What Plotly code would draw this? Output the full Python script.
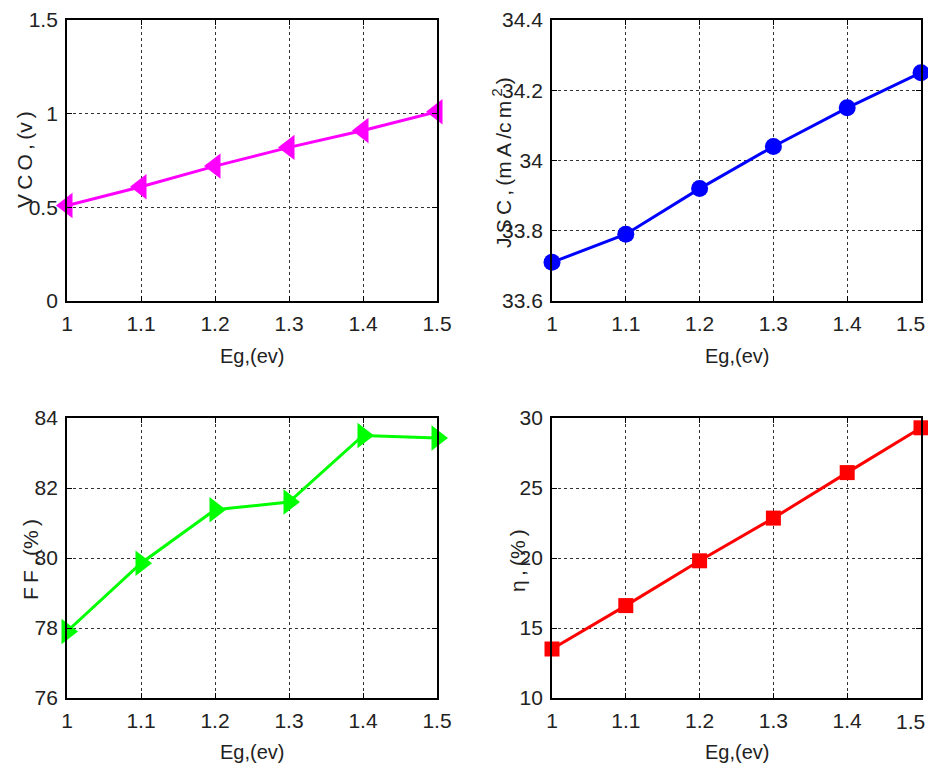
import plotly.graph_objects as go

eg = [1.0, 1.1, 1.2, 1.3, 1.4, 1.5]
vco = [0.51, 0.61, 0.72, 0.82, 0.91, 1.01]
jsc = [33.71, 33.79, 33.92, 34.04, 34.15, 34.25]
ff = [77.9, 79.85, 81.38, 81.6, 83.5, 83.43]
eta = [13.5, 16.6, 19.8, 22.85, 26.1, 29.3]

x_ticks = [1, 1.1, 1.2, 1.3, 1.4, 1.5]
x_ticktext = ["1", "1.1", "1.2", "1.3", "1.4", "1.5"]
vco_ticks = [0, 0.5, 1, 1.5]
vco_ticktext = ["0", "0.5", "1", "1.5"]
jsc_ticks = [33.6, 33.8, 34.0, 34.2, 34.4]
jsc_ticktext = ["33.6", "33.8", "34", "34.2", "34.4"]
ff_ticks = [76, 78, 80, 82, 84]
ff_ticktext = ["76", "78", "80", "82", "84"]
eta_ticks = [10, 15, 20, 25, 30]
eta_ticktext = ["10", "15", "20", "25", "30"]

# page body has an 8px margin; size the figure so the page does not overflow
OFF = 8
W, H = 936 - OFF, 772 - 2 * OFF
FONT = "Liberation Sans Narrow, Arial Narrow, Liberation Sans, Arial, sans-serif"
TXT = "#222222"

def px_x(v):
    return (v - OFF) / W

def px_y(v):
    return 1 - (v - OFF) / H

fig = go.Figure()

panels = [
    dict(y=vco, color="#ff00ff", symbol="triangle-left", size=22, xa="x", ya="y"),
    dict(y=jsc, color="#0000ff", symbol="circle", size=17, xa="x2", ya="y2"),
    dict(y=ff, color="#00ff00", symbol="triangle-right", size=22, xa="x3", ya="y3"),
    dict(y=eta, color="#ff0000", symbol="square", size=15, xa="x4", ya="y4"),
]
for p in panels:
    fig.add_trace(go.Scatter(
        x=eg, y=p["y"], mode="lines+markers",
        line=dict(color=p["color"], width=3),
        marker=dict(symbol=p["symbol"], size=p["size"], color=p["color"],
                    line=dict(width=0)),
        xaxis=p["xa"], yaxis=p["ya"], cliponaxis=False, showlegend=False,
    ))

xl, xr = (px_x(67), px_x(437)), (px_x(552), px_x(921))
yt, yb = (px_y(301), px_y(20)), (px_y(698), px_y(418))

TICKSIZE = 21
common = dict(showline=True, linecolor="black", linewidth=1.8, mirror="ticks",
              ticks="inside", ticklen=5, tickcolor="black", automargin=False,
              showgrid=True, gridcolor="#333333", griddash="dot", gridwidth=1,
              zeroline=False, tickfont=dict(family=FONT, size=TICKSIZE, color=TXT))

def xaxis(domain, anchor, right=False):
    # on the right-hand panels the last label sits at the page edge; it is
    # drawn as a right-aligned annotation below so it is not clipped
    tt = x_ticktext[:-1] + [""] if right else x_ticktext
    return dict(domain=domain, anchor=anchor, range=[1, 1.5], tickvals=x_ticks,
                ticktext=tt, ticklabelstandoff=3, **common)

def yaxis(domain, anchor, rng, tv, tt):
    return dict(domain=domain, anchor=anchor, range=rng, tickvals=tv, ticktext=tt,
                ticklabelstandoff=3, **common)

fig.update_layout(
    width=W, height=H, plot_bgcolor="white", paper_bgcolor="white",
    margin=dict(l=0, r=0, t=0, b=0),
    xaxis=xaxis(xl, "y"), yaxis=yaxis(yt, "x", [0, 1.5], vco_ticks, vco_ticktext),
    xaxis2=xaxis(xr, "y2", True), yaxis2=yaxis(yt, "x2", [33.6, 34.4], jsc_ticks, jsc_ticktext),
    xaxis3=xaxis(xl, "y3"), yaxis3=yaxis(yb, "x3", [76, 84], ff_ticks, ff_ticktext),
    xaxis4=xaxis(xr, "y4", True), yaxis4=yaxis(yb, "x4", [10, 30], eta_ticks, eta_ticktext),
)

for py in (324, 721):
    fig.add_annotation(text=x_ticktext[-1], x=px_x(927), y=px_y(py), xref="paper", yref="paper",
                       xanchor="right", yanchor="middle", showarrow=False,
                       font=dict(family=FONT, size=TICKSIZE, color=TXT))

T = "\u2009"
ylabels = [
    (T.join(["V", "C", "O", ",", "(v", ")"]), 24, 160),
    (T.join(["J", "S", "C", ",", "(m", "A", "/c", "m", "<sup>2</sup>", ")"]), 502, 163),
    (T.join(["F", "F", ",", "(%", ")"]), 30, 560),
    (T.join(["η", ",", "(%", ")"]), 517, 561),
]
for text, px, py in ylabels:
    fig.add_annotation(text=text, x=px_x(px), y=px_y(py), xref="paper", yref="paper",
                       xanchor="center", yanchor="middle", textangle=-90, showarrow=False,
                       font=dict(family=FONT, size=21, color=TXT))

xlabels = [(252, 356), (737, 356), (252, 752), (737, 752)]
for px, py in xlabels:
    fig.add_annotation(text="Eg,(ev)", x=px_x(px), y=px_y(py), xref="paper", yref="paper",
                       xanchor="center", yanchor="middle", showarrow=False,
                       font=dict(family=FONT, size=20, color=TXT))

fig.write_html("out.html")
